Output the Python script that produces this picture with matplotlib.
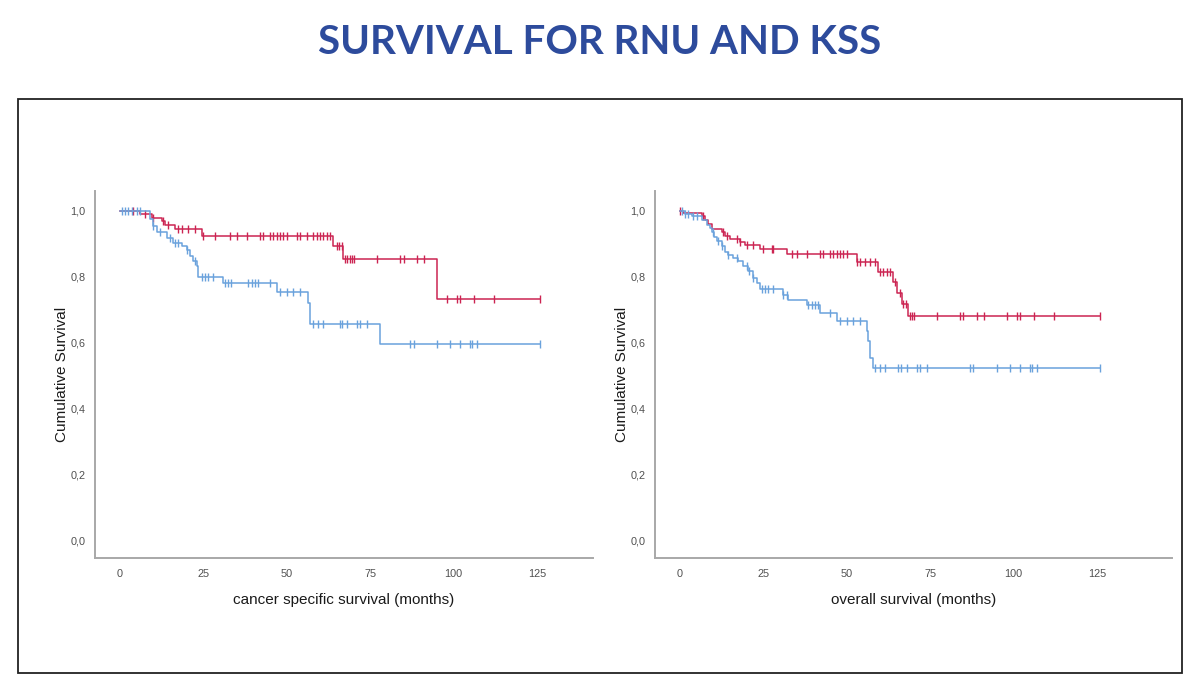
import numpy as np
import matplotlib
matplotlib.use("Agg")
import matplotlib.pyplot as plt
from matplotlib.patches import Rectangle
from matplotlib.ticker import FuncFormatter

plt.rcParams['font.family'] = ['Liberation Sans', 'DejaVu Sans']

# cancer specific survival - step times / survival values
red_css_t = [0, 6, 9.5, 12.5, 13.5, 16.5, 24.5, 64, 67, 95]
red_css_s = [1.0, 0.99, 0.978, 0.968, 0.958, 0.945, 0.925, 0.892, 0.855, 0.733]
red_css_cens = [4, 7.5, 10, 13, 14.5, 17.5, 18.5, 20.5, 22.5, 25, 28.5, 33, 35, 38, 42, 43,
                45, 46, 47, 48, 49, 50, 53, 54, 56, 58, 59, 60, 61, 62, 63, 65, 65.8, 66.5,
                67.5, 68, 68.8, 69.5, 70, 77, 84, 85, 89, 91, 98, 101, 102, 106, 112, 126]

blue_css_t = [0, 9, 10, 11, 14, 16, 18.5, 20, 21, 22, 23, 23.5, 31, 47, 56.5, 57, 78]
blue_css_s = [1.0, 0.975, 0.955, 0.935, 0.917, 0.902, 0.892, 0.882, 0.862, 0.847, 0.832,
              0.80, 0.782, 0.754, 0.721, 0.658, 0.597]
blue_css_cens = [0.5, 1.5, 2.5, 3.5, 5, 6, 10, 12, 15, 16.5, 17.5, 20, 22.5, 24.5, 25.5, 26.5,
                 28, 31.5, 32.5, 33.3, 38.5, 39.5, 40.5, 41.5, 45, 48, 50, 52, 54, 58, 59.5,
                 61, 66, 66.5, 68, 71, 72, 74, 87, 88, 95, 99, 102, 105, 105.5, 107, 126]

# overall survival
red_os_t = [0, 1, 6.5, 7.5, 8.5, 9.5, 12.5, 13.5, 15, 18, 19.5, 24, 32, 53, 59.5, 64, 65,
            66.5, 68.5]
red_os_s = [1.0, 0.993, 0.983, 0.973, 0.96, 0.945, 0.935, 0.923, 0.915, 0.905, 0.895, 0.885,
            0.868, 0.845, 0.816, 0.785, 0.752, 0.717, 0.682]
red_os_cens = [0, 7, 13, 14, 17, 18, 20, 22, 25, 27.5, 28, 33.5, 35, 38, 42, 43, 45, 46, 47,
               48, 49, 50, 53, 54, 55.5, 57, 58.5, 60, 61, 62, 63, 64.5, 66, 67, 67.8, 69,
               69.5, 70, 77, 84, 84.8, 89, 91, 98, 101, 102, 106, 112, 126]

blue_os_t = [0, 1.5, 3.5, 6.5, 8, 9, 9.5, 10.2, 11, 12.5, 13.5, 14.5, 16, 17.5, 19, 20.5, 22,
             23, 24, 31, 32.5, 38, 42, 47, 56, 56.5, 57, 58]
blue_os_s = [1.0, 0.99, 0.985, 0.973, 0.958, 0.948, 0.937, 0.922, 0.907, 0.892, 0.875, 0.865,
             0.857, 0.847, 0.832, 0.817, 0.797, 0.782, 0.764, 0.746, 0.731, 0.716, 0.691,
             0.666, 0.635, 0.605, 0.555, 0.525]
blue_os_cens = [0.5, 1.5, 2.5, 4, 5, 10, 11.5, 12.5, 14.5, 17, 20, 20.8, 22, 24.5, 25.5, 26.5,
                28, 31, 32, 38.5, 39.5, 40.5, 41.5, 45, 48, 50, 52, 54, 58.5, 60, 61.5, 65.5,
                66.2, 68, 71, 72, 74, 87, 87.8, 95, 99, 102, 104.8, 105.5, 107, 126]

end_time = 126
x_ticks = [0, 25, 50, 75, 100, 125]
y_ticks = [0.0, 0.2, 0.4, 0.6, 0.8, 1.0]

RED = '#cc2452'
BLUE = '#6aa2dc'


def km(ax, t, s, cens, color):
    ax.step(t + [end_time], s + [s[-1]], where='post', color=color, lw=1.1)
    idx = np.searchsorted(t, cens, side='right') - 1
    ax.plot(cens, np.array(s)[idx], ls='none', marker='|', ms=6, mew=1.0, color=color)


def style(ax, xlabel, xmax):
    ax.set_xlim(-7.5, xmax)
    ax.set_ylim(-0.052, 1.06)
    for side in ['top', 'right']:
        ax.spines[side].set_visible(False)
    for side in ['left', 'bottom']:
        ax.spines[side].set_color('#a8a8a8')
        ax.spines[side].set_linewidth(1.4)
    ax.set_xticks(x_ticks)
    ax.set_yticks(y_ticks)
    ax.yaxis.set_major_formatter(FuncFormatter(lambda v, p: f"{v:.1f}".replace('.', ',')))
    ax.tick_params(length=0, labelsize=7.8, labelcolor='#505050')
    ax.tick_params(axis='x', pad=8)
    ax.tick_params(axis='y', pad=7)
    ax.set_xlabel(xlabel, fontsize=11, color='#1a1a1a', labelpad=10)
    ax.set_ylabel('Cumulative Survival', fontsize=11, color='#1a1a1a', labelpad=1)


fig = plt.figure(figsize=(12, 6.9), dpi=100)

ax1 = fig.add_axes([95 / 1200, 1 - 558 / 690, 498 / 1200, 367 / 690])
km(ax1, red_css_t, red_css_s, red_css_cens, RED)
km(ax1, blue_css_t, blue_css_s, blue_css_cens, BLUE)
style(ax1, 'cancer specific survival (months)', 141.8)

ax2 = fig.add_axes([655 / 1200, 1 - 558 / 690, 517 / 1200, 367 / 690])
km(ax2, red_os_t, red_os_s, red_os_cens, RED)
km(ax2, blue_os_t, blue_os_s, blue_os_cens, BLUE)
style(ax2, 'overall survival (months)', 147.5)

fig.patches.append(Rectangle((18 / 1200, 1 - 673 / 690), 1164 / 1200, 574 / 690,
                             transform=fig.transFigure, fill=False, ec='#222222', lw=1.3))

fig.text(0.5, 1 - 43 / 690, 'SURVIVAL FOR RNU AND KSS', ha='center', va='center',
         fontsize=29, fontweight='bold', color='#2d4b9c', family=['Lato', 'DejaVu Sans'])

fig.savefig('out.png', dpi=100)
